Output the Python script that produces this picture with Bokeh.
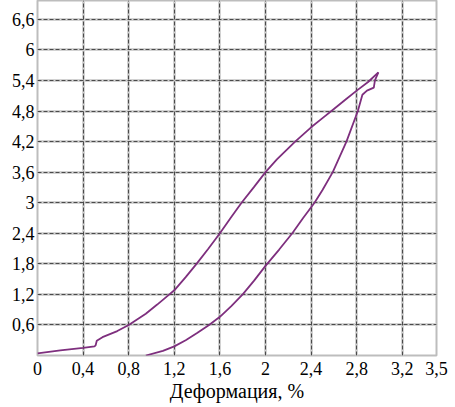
from bokeh.plotting import figure
from bokeh.models import FixedTicker, Range1d, Grid
from bokeh.embed import file_html
from bokeh.resources import INLINE

# Loading branch (strain %, stress)
load_x = [0.0, 0.2, 0.4, 0.5, 0.51, 0.52, 0.57, 0.7, 0.8, 0.95, 1.05, 1.157, 1.2, 1.3, 1.395, 1.5,
          1.6, 1.7, 1.79, 1.9, 2.0, 2.1, 2.26, 2.4, 2.5, 2.6, 2.7, 2.8, 2.9, 2.99]
load_y = [0.04, 0.1, 0.15, 0.18, 0.2, 0.29, 0.36, 0.48, 0.6, 0.82, 1.0, 1.2, 1.28, 1.54, 1.8, 2.1,
          2.4, 2.72, 3.0, 3.31, 3.6, 3.85, 4.2, 4.48, 4.66, 4.84, 5.02, 5.2, 5.37, 5.56]

# Unloading branch
unload_x = [2.99, 2.96, 2.95, 2.89, 2.85, 2.81, 2.71, 2.59, 2.5, 2.43, 2.33, 2.235, 2.12, 2.0, 1.9,
            1.8, 1.7, 1.6, 1.505, 1.4, 1.3, 1.2, 1.1, 0.95]
unload_y = [5.56, 5.4, 5.26, 5.2, 5.12, 4.8, 4.2, 3.6, 3.25, 3.0, 2.7, 2.4, 2.08, 1.76, 1.47,
            1.2, 0.97, 0.76, 0.6, 0.44, 0.3, 0.18, 0.09, 0.0]

x_ticks = [0, 0.4, 0.8, 1.2, 1.6, 2.0, 2.4, 2.8, 3.2, 3.5]
x_labels = ["0", "0,4", "0,8", "1,2", "1,6", "2", "2,4", "2,8", "3,2", "3,5"]
y_ticks = [0.6, 1.2, 1.8, 2.4, 3.0, 3.6, 4.2, 4.8, 5.4, 6.0, 6.6]
y_labels = ["0,6", "1,2", "1,8", "2,4", "3", "3,6", "4,2", "4,8", "5,4", "6", "6,6"]
x_title = "Деформация, %"

FONT = "Liberation Serif"

p = figure(width=450, height=404, output_backend="svg", toolbar_location=None,
           x_range=Range1d(0, 3.5), y_range=Range1d(0, 6.97),
           min_border_left=37, min_border_right=14, min_border_top=0, min_border_bottom=0)
p.background_fill_color = "white"
p.border_fill_color = "white"
p.outline_line_color = "#bdbdbd"
p.outline_line_width = 2

# light solid grid underneath
p.xgrid.ticker = FixedTicker(ticks=x_ticks)
p.ygrid.ticker = FixedTicker(ticks=y_ticks)
p.xgrid.grid_line_color = "#d2d2d2"
p.ygrid.grid_line_color = "#d2d2d2"
p.xgrid.grid_line_width = 3
p.ygrid.grid_line_width = 3

# dark dashed grid on top
gx = Grid(dimension=0, ticker=FixedTicker(ticks=x_ticks[1:-1]), grid_line_color="#4a4a4a",
          grid_line_width=1, grid_line_dash="4 2")
gy = Grid(dimension=1, ticker=FixedTicker(ticks=y_ticks), grid_line_color="#4a4a4a",
          grid_line_width=1, grid_line_dash="4 2")
p.add_layout(gx)
p.add_layout(gy)

p.line(load_x, load_y, line_color="#7e2f7e", line_width=1.8)
p.line(unload_x, unload_y, line_color="#7e2f7e", line_width=1.8)

p.xaxis.ticker = FixedTicker(ticks=x_ticks)
p.xaxis.major_label_overrides = {t: l for t, l in zip(x_ticks, x_labels)}
p.yaxis.ticker = FixedTicker(ticks=y_ticks)
p.yaxis.major_label_overrides = {t: l for t, l in zip(y_ticks, y_labels)}

for ax in (p.xaxis[0], p.yaxis[0]):
    ax.axis_line_color = None
    ax.major_tick_line_color = None
    ax.minor_tick_line_color = None
    ax.major_tick_out = 0
    ax.major_tick_in = 0
    ax.major_label_text_font = FONT
    ax.major_label_text_font_size = "18px"
    ax.major_label_text_color = "black"

p.xaxis.major_label_standoff = 6
p.yaxis.major_label_standoff = 3
p.xaxis.axis_label = x_title
p.xaxis.axis_label_text_font = FONT
p.xaxis.axis_label_text_font_size = "20px"
p.xaxis.axis_label_text_font_style = "normal"
p.xaxis.axis_label_text_color = "black"
p.xaxis.axis_label_standoff = 2

open("out.html", "w").write(file_html(p, INLINE))
